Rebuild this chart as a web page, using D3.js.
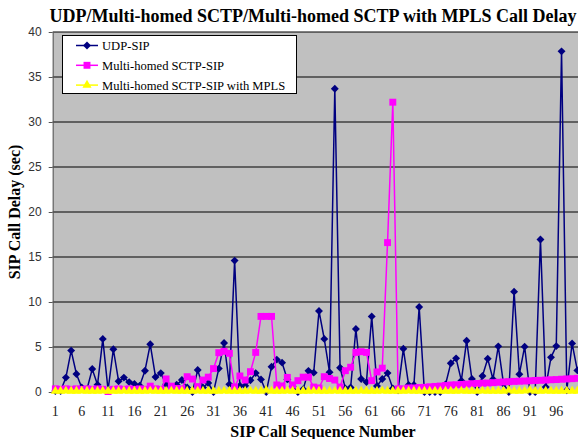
<!DOCTYPE html>
<html>
<head>
<meta charset="utf-8">
<script src="https://cdn.jsdelivr.net/npm/d3@7"></script>
<style>
  body { margin: 0; background: #fff; }
  svg { display: block; }
</style>
</head>
<body>
<svg width="578" height="439"></svg>
<script>
// Series values (call 1..100)
var udpSip = [0.1, 0.1, 1.6, 4.6, 2.0, 0.5, 0.3, 2.55, 0.8, 5.9,
    0.2, 4.75, 1.2, 1.6, 1.1, 0.9, 0.7, 2.37, 5.3, 1.67,
    2.1, 0.85, 0.5, 0.8, 1.33, 0.5, 0, 2.44, 0.5, 1.0,
    0, 2.6, 5.45, 0.85, 14.6, 0.7, 0.7, 1.3, 2.1, 1.4,
    0, 2.8, 3.6, 3.26, 1.4, 0.65, 0, 0.3, 2.35, 2.15,
    9.0, 5.9, 2.2, 33.7, 2.7, 0.4, 0.5, 7.0, 1.44, 1.1,
    8.4, 0.67, 1.44, 2.1, 0.4, 0.2, 4.8, 0.78, 0.78, 9.45,
    0, 0, 0, 0, 0.85, 3.2, 3.74, 1.26, 5.7, 1.44,
    0, 1.78, 3.7, 1.42, 5.07, 0.9, 0, 11.15, 1.98, 5.04,
    0, 0, 16.95, 0.55, 3.85, 5.1, 37.85, 0.2, 5.4, 2.4];

var sctpSip = [0.35, 0.3, 0.35, 0.3, 0.35, 0.3, 0.35, 0.3, 0.35, 0.3,
    0.05, 0.3, 0.35, 0.3, 0.35, 0.3, 0.35, 0.3, 0.65, 0.35,
    0.3, 1.45, 0.65, 0.4, 0.35, 1.7, 1.44, 0.6, 1.33, 1.65,
    2.6, 4.37, 4.52, 4.3, 0.55, 1.78, 1.33, 2.26, 4.4, 8.4,
    8.4, 8.4, 0.78, 0.67, 1.62, 0.78, 1.26, 1.65, 1.65, 0.55,
    0.45, 1.7, 1.5, 1.33, 0.55, 2.37, 2.75, 4.4, 4.48, 4.4,
    1.26, 2.23, 2.65, 16.6, 32.2, 0.35, 0.35, 0.45, 0.45, 0.5,
    0.52, 0.58, 0.62, 0.66, 0.72, 0.78, 0.8, 0.84, 0.88, 0.92,
    0.95, 0.98, 1.0, 1.04, 1.08, 1.12, 1.15, 1.18, 1.2, 1.22,
    1.25, 1.28, 1.3, 1.33, 1.36, 1.38, 1.42, 1.45, 1.48, 1.52];

var sctpMpls = [0.1, 0.1, 0.12, 0.1, 0.1, 0.12, 0.1, 0.1, 0.1, 0.12,
    0.1, 0.1, 0.1, 0.12, 0.1, 0.1, 0.1, 0.1, 0.12, 0.1,
    0.1, 0.1, 0.12, 0.1, 0.1, 0.1, 0.1, 0.12, 0.1, 0.1,
    0.1, 0.1, 0.12, 0.1, 0.1, 0.1, 0.1, 0.12, 0.1, 0.1,
    0.2, 0.1, 0.1, 0.1, 0.12, 0.1, 0.1, 0.1, 0.1, 0.12,
    0.1, 0.1, 0.1, 0.12, 0.1, 0.1, 0.1, 0.1, 0.12, 0.1,
    0.1, 0.1, 0.12, 0.1, 0.1, 0.1, 0.1, 0.12, 0.1, 0.1,
    0.1, 0.1, 0.12, 0.1, 0.1, 0.1, 0.1, 0.12, 0.1, 0.1,
    0.1, 0.12, 0.1, 0.1, 0.1, 0.1, 0.2, 0.1, 0.1, 0.12,
    0.2, 0.1, 0.1, 0.12, 0.1, 0.1, 0.1, 0.12, 0.1, 0.1];

var calls = d3.range(1, 101);
var xTickLabels = [1, 6, 11, 16, 21, 26, 31, 36, 41, 46, 51, 56, 61, 66, 71, 76, 81, 86, 91, 96];
var yTickLabels = [0, 5, 10, 15, 20, 25, 30, 35, 40];

var seriesNames = ["UDP-SIP", "Multi-homed SCTP-SIP", "Multi-homed SCTP-SIP with MPLS"];
var seriesData  = [udpSip, sctpSip, sctpMpls];
var colors      = ["#000080", "#ff00ff", "#ffff00"];
var shapes      = [d3.symbolDiamond2, d3.symbolSquare, d3.symbolTriangle];
var shapeSizes  = [40, 48, 36];

var svg = d3.select("svg");
var plot = { left: 52.7, right: 580, top: 32, bottom: 392 };

var x = d3.scaleBand().domain(calls).range([plot.left, plot.right]);
var y = d3.scaleLinear().domain([0, 40]).range([plot.bottom, plot.top]);

// Plot area
svg.append("rect")
   .attr("x", plot.left).attr("y", plot.top)
   .attr("width", plot.right - plot.left).attr("height", plot.bottom - plot.top)
   .attr("fill", "#c0c0c0");

// Gridlines
svg.append("g").selectAll("line")
   .data(yTickLabels.filter(function(d) { return d > 0; }))
   .join("line")
   .attr("x1", plot.left).attr("x2", plot.right)
   .attr("y1", function(d) { return y(d); }).attr("y2", function(d) { return y(d); })
   .attr("stroke", "#000").attr("stroke-width", 1);

// Y axis
var yAxis = svg.append("g")
   .attr("transform", "translate(" + plot.left + ",0)")
   .call(d3.axisLeft(y).tickValues(yTickLabels).tickSize(4).tickPadding(7).tickSizeOuter(0));
yAxis.select(".domain").attr("stroke", "#555");
yAxis.selectAll(".tick line").attr("stroke", "#555");
yAxis.selectAll("text").attr("font-family", "Liberation Sans, Arial, sans-serif")
     .attr("font-size", 12).attr("fill", "#333");

// X axis
var xAxis = svg.append("g")
   .attr("transform", "translate(0," + plot.bottom + ")")
   .call(d3.axisBottom(x).tickValues(xTickLabels).tickSize(0).tickPadding(14));
xAxis.select(".domain").attr("stroke", "#555");
xAxis.selectAll("text").attr("font-family", "Liberation Serif, Times New Roman, serif")
     .attr("font-size", 14).attr("fill", "#222");

// Series lines and markers
for (var s = 0; s < seriesData.length; s++) {
    var line = d3.line()
        .x(function(d, i) { return x(calls[i]) + x.bandwidth() / 2; })
        .y(function(d) { return y(d); });
    svg.append("path")
       .datum(seriesData[s])
       .attr("fill", "none")
       .attr("stroke", colors[s])
       .attr("stroke-width", 1.5)
       .attr("d", line);
    svg.append("g").selectAll("path")
       .data(seriesData[s])
       .join("path")
       .attr("transform", function(d, i) {
           return "translate(" + (x(calls[i]) + x.bandwidth() / 2) + "," + y(d) + ")";
       })
       .attr("d", d3.symbol().type(shapes[s]).size(shapeSizes[s]))
       .attr("fill", colors[s]);
}

// Legend
var legend = svg.append("g");
legend.append("rect")
      .attr("x", 62.5).attr("y", 35.5).attr("width", 234).attr("height", 58)
      .attr("fill", "#fff").attr("stroke", "#000").attr("stroke-width", 1);
seriesNames.forEach(function(name, i) {
    var ly = 45.5 + i * 19.8;
    legend.append("line")
          .attr("x1", 76).attr("x2", 98).attr("y1", ly).attr("y2", ly)
          .attr("stroke", colors[i]).attr("stroke-width", 1.5);
    legend.append("path")
          .attr("transform", "translate(87," + ly + ")")
          .attr("d", d3.symbol().type(shapes[i]).size(shapeSizes[i]))
          .attr("fill", colors[i]);
    legend.append("text")
          .attr("x", 102).attr("y", ly + 4.5)
          .attr("font-family", "Liberation Serif, Times New Roman, serif")
          .attr("font-size", 12.6)
          .text(name);
});

// Titles
svg.append("text")
   .attr("x", 313).attr("y", 22)
   .attr("text-anchor", "middle")
   .attr("font-family", "Liberation Serif, Times New Roman, serif")
   .attr("font-weight", "bold").attr("font-size", 18)
   .text("UDP/Multi-homed SCTP/Multi-homed SCTP with MPLS Call Delay");

svg.append("text")
   .attr("x", 323).attr("y", 437)
   .attr("text-anchor", "middle")
   .attr("font-family", "Liberation Serif, Times New Roman, serif")
   .attr("font-weight", "bold").attr("font-size", 16)
   .text("SIP Call Sequence Number");

svg.append("text")
   .attr("transform", "translate(20,212) rotate(-90)")
   .attr("text-anchor", "middle")
   .attr("font-family", "Liberation Serif, Times New Roman, serif")
   .attr("font-weight", "bold").attr("font-size", 16)
   .text("SIP Call Delay (sec)");
</script>
</body>
</html>
